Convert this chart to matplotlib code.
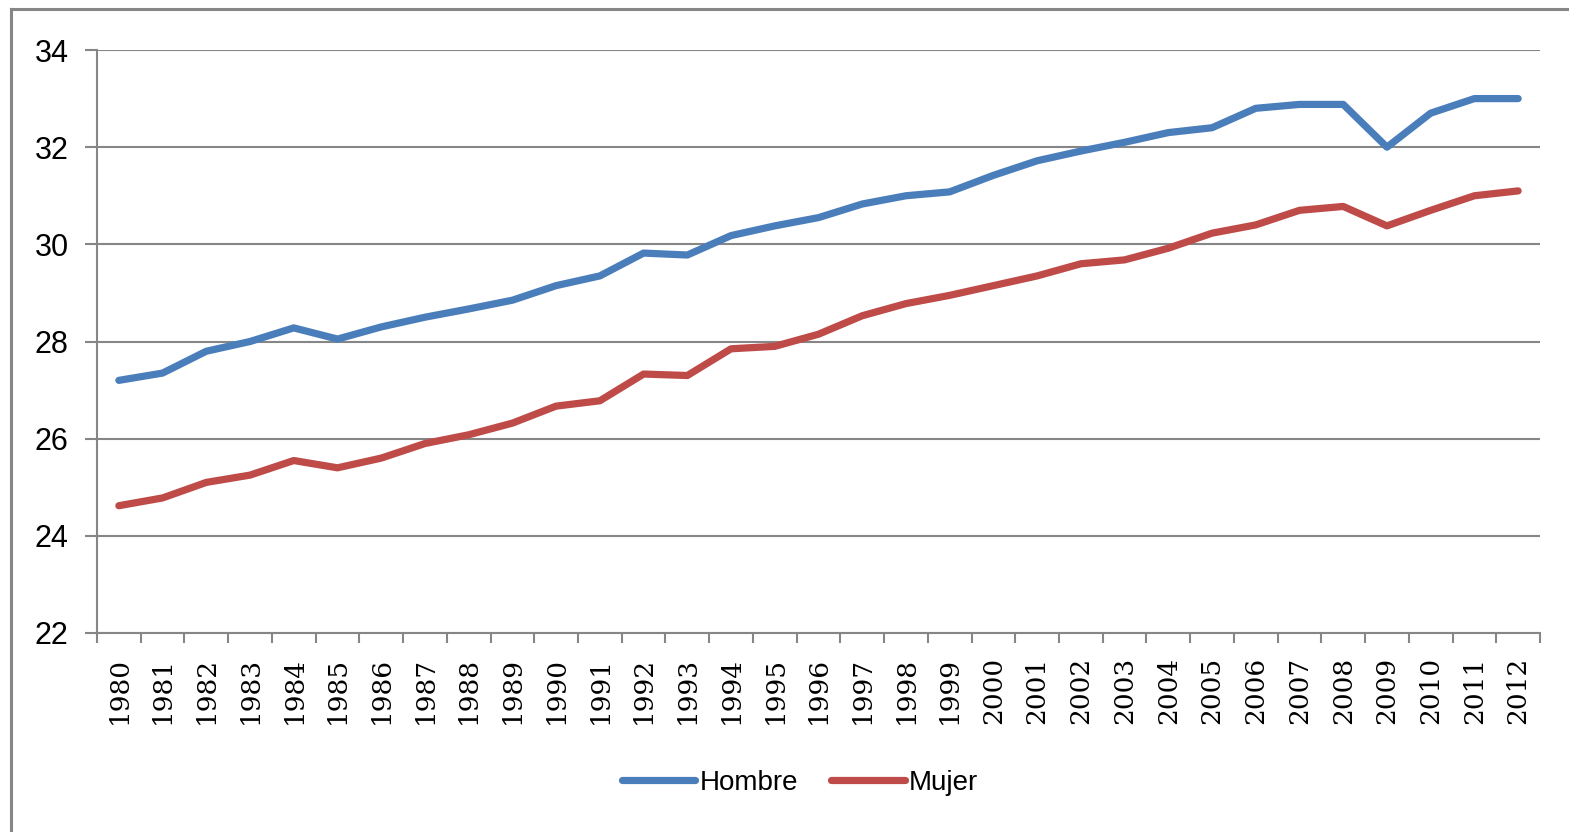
import matplotlib
matplotlib.use("Agg")
import matplotlib.pyplot as plt
from matplotlib.lines import Line2D
import numpy as np

# Data
years = [str(y) for y in range(1980, 2013)]
hombre = [27.2, 27.35, 27.8, 28.0, 28.28, 28.05, 28.3, 28.5, 28.67, 28.85,
          29.15, 29.35, 29.82, 29.78, 30.18, 30.38, 30.55, 30.83, 31.0, 31.08,
          31.42, 31.72, 31.92, 32.1, 32.3, 32.4, 32.8, 32.88, 32.88, 32.0,
          32.7, 33.0, 33.0]
mujer = [24.62, 24.78, 25.1, 25.25, 25.55, 25.4, 25.6, 25.9, 26.08, 26.32,
         26.67, 26.78, 27.33, 27.3, 27.85, 27.9, 28.15, 28.53, 28.78, 28.95,
         29.15, 29.35, 29.6, 29.68, 29.92, 30.23, 30.4, 30.7, 30.78, 30.38,
         30.7, 31.0, 31.1]
yticks = [22, 24, 26, 28, 30, 32, 34]

blue = "#4A7EBB"
red = "#BE4B48"
grey = "#868686"

fig = plt.figure(figsize=(15.69, 8.32), dpi=100)
ax = fig.add_axes([97 / 1569, 1 - 633 / 832, (1540 - 97) / 1569, (633 - 50) / 832])

x = np.arange(len(years))
ax.plot(x, hombre, color=blue, lw=5.2, solid_capstyle="round", solid_joinstyle="round", label="Hombre")
ax.plot(x, mujer, color=red, lw=5.2, solid_capstyle="round", solid_joinstyle="round", label="Mujer")

# axes and grid
ax.set_xlim(-0.5, len(years) - 0.5)
ax.set_ylim(22, 34)
ax.set_yticks(yticks)
ax.set_yticklabels([str(t) for t in yticks], family="Liberation Sans", fontsize=22)
ax.grid(axis="y", color=grey, lw=1.5)
ax.set_axisbelow(True)
for side in ["top", "right"]:
    ax.spines[side].set_visible(False)
for side in ["left", "bottom"]:
    ax.spines[side].set_color(grey)
    ax.spines[side].set_linewidth(1.5)
ax.tick_params(axis="y", length=8.5, width=1.5, color=grey, pad=12)

ax.set_xticks(x)
ax.set_xticklabels(years, rotation=90, family="DejaVu Serif", fontsize=19)
ax.set_xticks(np.arange(len(years) + 1) - 0.5, minor=True)
ax.tick_params(axis="x", which="major", length=0, pad=17)
ax.tick_params(axis="x", which="minor", length=7, width=1.5, color=grey)

# legend at bottom
ax.legend(loc="center", bbox_to_anchor=(800 / 1569, 1 - 783 / 832), bbox_transform=fig.transFigure,
          ncol=2, frameon=False, prop={"family": "Liberation Sans", "size": 20},
          handlelength=2.65, handletextpad=0.15, columnspacing=1.2)

# outer chart frame (only left and top visible)
fig.add_artist(Line2D([11 / 1569, 11 / 1569], [0, 1 - 9 / 832], color=grey, lw=2.2, transform=fig.transFigure))
fig.add_artist(Line2D([11 / 1569, 1], [1 - 9 / 832, 1 - 9 / 832], color=grey, lw=2.2, transform=fig.transFigure))

fig.savefig("out.png", dpi=100)
